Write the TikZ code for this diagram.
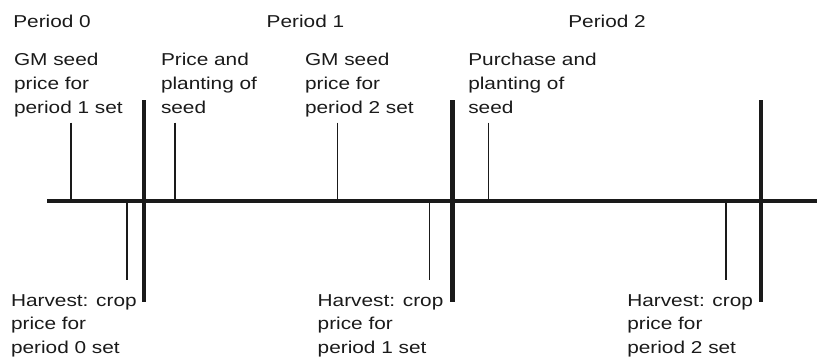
\documentclass[tikz,border=0pt]{standalone}
\usepackage{fontspec}
\setmainfont{Liberation Sans}[FakeStretch=1.21]
\definecolor{ink}{HTML}{1A1A1A}
\begin{document}
\begin{tikzpicture}[x=1pt,y=-1pt,
  lbl/.style={inner sep=0pt, outer sep=0pt, anchor=base west, align=left, text=ink,
    font=\fontsize{17.2}{23.7}\selectfont},
  axisline/.style={line width=4.7pt, draw=ink},
  divider/.style={line width=4.5pt, draw=ink},
  tick/.style={line width=1.5pt, draw=ink}]
\useasboundingbox (0,0) rectangle (817,357);
% timeline
\coordinate (a0) at (47,201);
\coordinate (a1) at (817,201);
\draw[axisline] (a0) -- (a1);
% period dividers
\foreach \i/\x in {1/144,2/452.7,3/761}{
  \coordinate (d\i t) at (\x,100);
  \coordinate (d\i b) at (\x,301.7);
  \draw[divider] (d\i t) -- (d\i b);
}
% upper ticks
\foreach \i/\x in {1/71,2/175,3/337.3,4/488.3}{
  \coordinate (u\i t) at (\x,122.7);
  \coordinate (u\i b) at (\x,201);
  \draw[tick] (u\i t) -- (u\i b);
}
% lower ticks
\foreach \i/\x in {1/127,2/429.3,3/726}{
  \coordinate (l\i t) at (\x,201);
  \coordinate (l\i b) at (\x,280);
  \draw[tick] (l\i t) -- (l\i b);
}
% period labels
\node[lbl] (p0) at (13.3,27.3) {Period 0};
\node[lbl] (p1) at (266.7,27.3) {Period 1};
\node[lbl] (p2) at (568.3,27.3) {Period 2};
% upper labels (anchored at the baseline of their last line)
\node[lbl] (e1) at (14,113.1) {GM seed\\price for\\period 1 set};
\node[lbl] (e2) at (161,113.1) {Price and\\planting of\\seed};
\node[lbl] (e3) at (305,113.1) {GM seed\\price for\\period 2 set};
\node[lbl] (e4) at (468.3,113.1) {Purchase and\\planting of\\seed};
% lower labels
\node[lbl] (h1) at (11,353.4) {Harvest: crop\\price for\\period 0 set};
\node[lbl] (h2) at (317.7,353.4) {Harvest: crop\\price for\\period 1 set};
\node[lbl] (h3) at (627.3,353.4) {Harvest: crop\\price for\\period 2 set};
\end{tikzpicture}
\end{document}
